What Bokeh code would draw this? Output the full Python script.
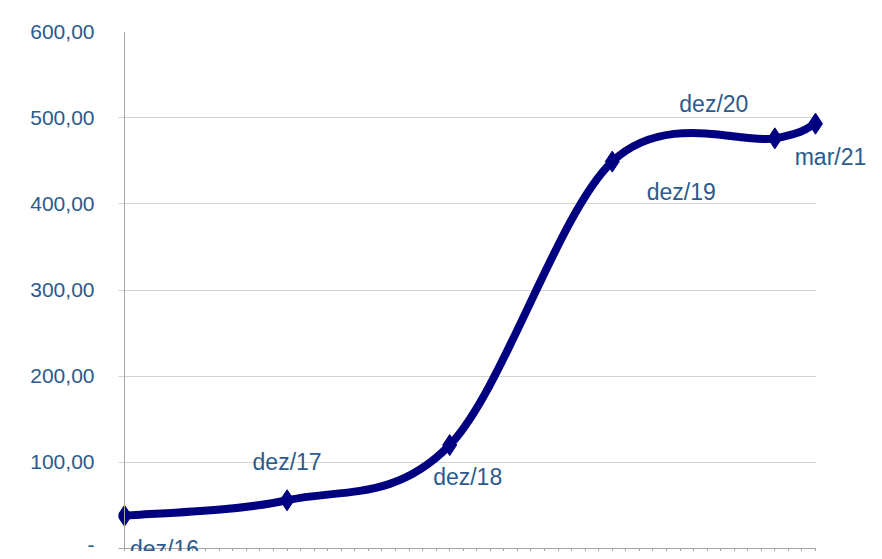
from bokeh.plotting import figure
from bokeh.models import ColumnDataSource, LabelSet, Range1d, FixedTicker, Span, LinearAxis
from bokeh.core.properties import value
from bokeh.embed import file_html
from bokeh.resources import INLINE

# ---- data ----
periods = ["2016-12", "2017-12", "2018-12", "2019-12", "2020-12", "2021-03"]
period_labels = ["dez/16", "dez/17", "dez/18", "dez/19", "dez/20", "mar/21"]
values = [38.0, 56.0, 120.0, 449.0, 476.0, 493.0]
y_ticks = [0, 100, 200, 300, 400, 500, 600]
y_tick_labels = ["-", "100,00", "200,00", "300,00", "400,00", "500,00", "600,00"]

# label placement (screen pixels, styling only)
label_dx = [40, 0, 18, 69, -61, 15]
label_dy = [-33, 38, -32, -30, 34, -33]

TEXT = "#2C5A8C"
LINE = "#000080"
AXIS = "#A6A6A6"
GRID = "#A8A8A8"
FONT = "Liberation Sans"

W, H = 866, 551
LEFT, TOP = 118, 31          # frame left / top in pixels
X0_PX, XEND_PX = 124, 815     # pixel of first and last period
Y0_PX = 548                  # pixel of value 0


def month_index(s):
    y, m = map(int, s.split("-"))
    return (y - 2016) * 12 + (m - 12)


xs = [month_index(s) for s in periods]
n = len(xs)

# smoothed line: Catmull-Rom style bezier control points from the data points
x0, y0, x1, y1, cx0, cy0, cx1, cy1 = [], [], [], [], [], [], [], []
for i in range(n - 1):
    pm = max(i - 1, 0)
    pp = min(i + 2, n - 1)
    x0.append(xs[i]); y0.append(values[i])
    x1.append(xs[i + 1]); y1.append(values[i + 1])
    cx0.append(xs[i] + (xs[i + 1] - xs[pm]) / 6.0)
    cy0.append(values[i] + (values[i + 1] - values[pm]) / 6.0)
    cx1.append(xs[i + 1] - (xs[pp] - xs[i]) / 6.0)
    cy1.append(values[i + 1] - (values[pp] - values[i]) / 6.0)

bez = ColumnDataSource(dict(x0=x0, y0=y0, x1=x1, y1=y1,
                            cx0=cx0, cy0=cy0, cx1=cx1, cy1=cy1))
pts = ColumnDataSource(dict(x=xs, y=values, label=period_labels,
                            dx=label_dx, dy=label_dy))

# ranges so that the frame spans to the figure edge (labels not clipped)
xpx = (XEND_PX - X0_PX) / (xs[-1] - xs[0])
x_start = xs[0] - (X0_PX - LEFT) / xpx
x_end = xs[-1] + (W - XEND_PX) / xpx
ypx = (Y0_PX - TOP) / (y_ticks[-1] - y_ticks[0])
y_start = y_ticks[0] - (H - Y0_PX) / ypx

p = figure(width=W, height=H, output_backend="svg", toolbar_location=None,
           x_range=Range1d(x_start, x_end), y_range=Range1d(y_start, y_ticks[-1]),
           x_axis_location=None,
           min_border_left=LEFT, min_border_right=0,
           min_border_top=TOP, min_border_bottom=0)
p.outline_line_color = None
p.background_fill_color = "white"
p.border_fill_color = "white"

# grid
p.xgrid.grid_line_color = None
p.ygrid.ticker = FixedTicker(ticks=y_ticks)
p.ygrid.grid_line_color = GRID
p.ygrid.grid_line_dash = "1 1"
p.ygrid.grid_line_width = 1
p.ygrid.cross_bounds = (x_start, xs[-1])

# y axis
p.yaxis.ticker = FixedTicker(ticks=y_ticks)
p.yaxis.major_label_overrides = {t: l for t, l in zip(y_ticks, y_tick_labels)}
p.yaxis.axis_line_color = None
p.yaxis.major_tick_line_color = None
p.yaxis.minor_tick_line_color = None
p.yaxis.major_label_standoff = 18
p.yaxis.major_label_text_font = FONT
p.yaxis.major_label_text_font_size = "21px"
p.yaxis.major_label_text_color = TEXT

# x axis pinned at value 0: monthly ticks, no labels
xaxis = LinearAxis(ticker=FixedTicker(ticks=list(range(xs[0], xs[-1] + 1))),
                   fixed_location=0, bounds=(x_start, xs[-1]))
xaxis.axis_line_color = AXIS
xaxis.major_tick_line_color = AXIS
xaxis.major_tick_in = 6
xaxis.major_tick_out = 0
xaxis.minor_tick_line_color = None
xaxis.major_label_text_font_size = "0px"
xaxis.major_label_standoff = 0
p.add_layout(xaxis, "above")

# vertical axis line at first period
p.add_layout(Span(location=xs[0], dimension="height", line_color=AXIS, line_width=1))

p.bezier(x0="x0", y0="y0", x1="x1", y1="y1", cx0="cx0", cy0="cy0",
         cx1="cx1", cy1="cy1", source=bez, line_color=LINE, line_width=8)
p.scatter(x="x", y="y", source=pts, marker="diamond", size=21,
          fill_color=LINE, line_color=LINE)

labels = LabelSet(x="x", y="y", text="label", source=pts,
                  x_offset="dx", y_offset="dy",
                  text_align="center", text_baseline="middle",
                  text_font=value(FONT), text_font_size="23px", text_color=TEXT)
p.add_layout(labels)

open("out.html", "w").write(file_html(p, INLINE))
